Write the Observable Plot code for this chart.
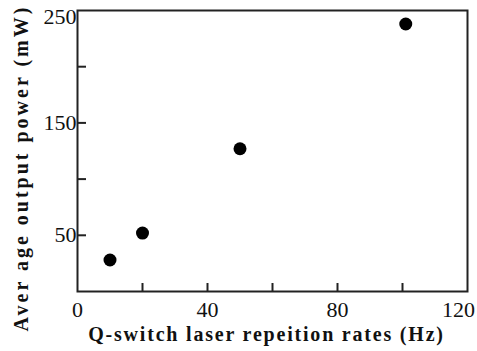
<!DOCTYPE html>
<html><head><meta charset="utf-8">
<script src="https://cdn.jsdelivr.net/npm/d3@7"></script>
<script src="https://cdn.jsdelivr.net/npm/@observablehq/plot@0.6"></script>
<style>body{margin:0;background:#fff;} svg{display:block;}</style>
</head><body><div id="chart"></div>
<script>
const rates = [10, 20, 50, 101];
const power = [28, 52, 127, 238];
const xTickLabels = [0, 40, 80];
const xLastLabel = [120];
const xMinorTicks = [20, 40, 60, 80, 100];
const yTickLabels = [50, 150];
const yTopLabel = [250];
const yMinorTicks = [50, 100, 150, 200];
const xTitle = "Q-switch laser repeition rates (Hz)";
const yTitle = "Aver age output power (mW)";

const data = rates.map((r, i) => ({rate: r, power: power[i]}));
const font = "'Liberation Serif', 'DejaVu Serif', serif";

const chart = Plot.plot({
  width: 477, height: 351,
  marginLeft: 77, marginRight: 10, marginTop: 10, marginBottom: 60,
  style: {fontFamily: font, fontSize: "22px", color: "#111", background: "#fff"},
  x: {domain: [0, 120]},
  y: {domain: [0, 250]},
  marks: [
    Plot.axisX({ticks: xMinorTicks, tickSize: -8, text: null, label: null, strokeWidth: 2, stroke: "#222"}),
    Plot.axisX({ticks: xTickLabels, tickSize: 0, tickPadding: 10, fontSize: 22, label: xTitle, labelAnchor: "center", labelOffset: 49, labelArrow: "none"}),
    Plot.axisX({ticks: xLastLabel, tickSize: 0, tickPadding: 10, fontSize: 22, label: null, dx: -9}),
    Plot.axisY({ticks: yMinorTicks, tickSize: -9, text: null, label: null, strokeWidth: 2, stroke: "#222"}),
    Plot.axisY({ticks: yTickLabels, tickSize: 0, tickPadding: 1, fontSize: 22, label: yTitle, labelAnchor: "center", labelOffset: 64, labelArrow: "none"}),
    Plot.axisY({ticks: yTopLabel, tickSize: 0, tickPadding: 1, fontSize: 22, label: null, dy: 6}),
    Plot.frame({stroke: "#222", strokeWidth: 2}),
    Plot.dot(data, {x: "rate", y: "power", r: 6.5, fill: "#000", stroke: "none"})
  ]
});
d3.select(chart).selectAll("[aria-label='x-axis label'] text")
  .style("font-size", "20px").style("font-weight", "bold").style("letter-spacing", "1.8px").attr("dx", -6);
d3.select(chart).selectAll("[aria-label='y-axis label'] text")
  .style("font-size", "20px").style("font-weight", "bold").style("letter-spacing", "3px").attr("dx", -17);
document.getElementById("chart").append(chart);
</script></body></html>
